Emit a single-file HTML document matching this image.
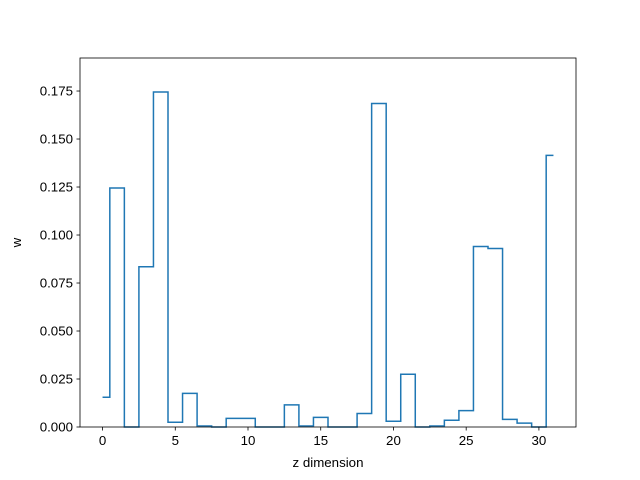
<!DOCTYPE html>
<html><head><meta charset="utf-8"><style>body{margin:0;background:#fff}svg{display:block;font-family:"Liberation Sans","DejaVu Sans",sans-serif}</style></head>
<body>
<svg id="c" width="640" height="480"></svg>
<script>
const zValues=[0,1,2,3,4,5,6,7,8,9,10,11,12,13,14,15,16,17,18,19,20,21,22,23,24,25,26,27,28,29,30,31];
const wValues=[0.0155,0.1245,0.0,0.0835,0.1745,0.0025,0.0175,0.0005,0.0,0.0045,0.0045,0.0,0.0,0.0115,0.0005,0.005,0.0,0.0,0.007,0.1685,0.003,0.0275,0.0,0.0005,0.0035,0.0085,0.094,0.093,0.004,0.002,0.0,0.1415];
const xTicks=[0,5,10,15,20,25,30];
const yTicks=[0,0.025,0.05,0.075,0.1,0.125,0.15,0.175];
const L=80,R=576,T=58,B=427;
const xmin=-1.55,xmax=32.55,ymin=0,ymax=0.1922;
const X=v=>L+(v-xmin)/(xmax-xmin)*(R-L);
const Y=v=>B-(v-ymin)/(ymax-ymin)*(B-T);
const svg=document.getElementById('c');const NS='http://www.w3.org/2000/svg';
function mk(t,a,p){const e=document.createElementNS(NS,t);for(const k in a)e.setAttribute(k,a[k]);(p||svg).appendChild(e);return e;}
let d='';const n=zValues.length;
for(let i=0;i<n;i++){
 const x0=i===0?zValues[0]:(zValues[i-1]+zValues[i])/2;
 const x1=i===n-1?zValues[n-1]:(zValues[i]+zValues[i+1])/2;
 d+=(i===0?'M':'L')+X(x0).toFixed(2)+','+Y(wValues[i]).toFixed(2)+'L'+X(x1).toFixed(2)+','+Y(wValues[i]).toFixed(2);
}
const p=mk('path',{d:d,fill:'none',stroke:'#1f77b4','stroke-width':1.5});


const fr=mk('rect',{x:L,y:T,width:R-L,height:B-T,fill:'none',stroke:'#000','stroke-width':0.8});


xTicks.forEach(t=>{const x=X(t);
 const l=mk('line',{x1:x,x2:x,y1:B,y2:B+3.5,stroke:'#000','stroke-width':0.8});
 
 
 const tx=mk('text',{x:x,y:B+18,'text-anchor':'middle','font-size':13.3});tx.textContent=t;
 
 
});
yTicks.forEach(t=>{const y=Y(t);
 const l=mk('line',{x1:L-3.5,x2:L,y1:y,y2:y,stroke:'#000','stroke-width':0.8});
 
 
 const tx=mk('text',{x:L-7,y:y+4.5,'text-anchor':'end','font-size':13.3});tx.textContent=t.toFixed(3);
 
 
});
const xl=mk('text',{x:(L+R)/2,y:467,'text-anchor':'middle','font-size':13.3});xl.textContent='z dimension';


const yl=mk('text',{x:21,y:(T+B)/2,'text-anchor':'middle','font-size':13.3,transform:'rotate(-90 21 '+((T+B)/2)+')'});yl.textContent='w';


</script>
</body></html>
